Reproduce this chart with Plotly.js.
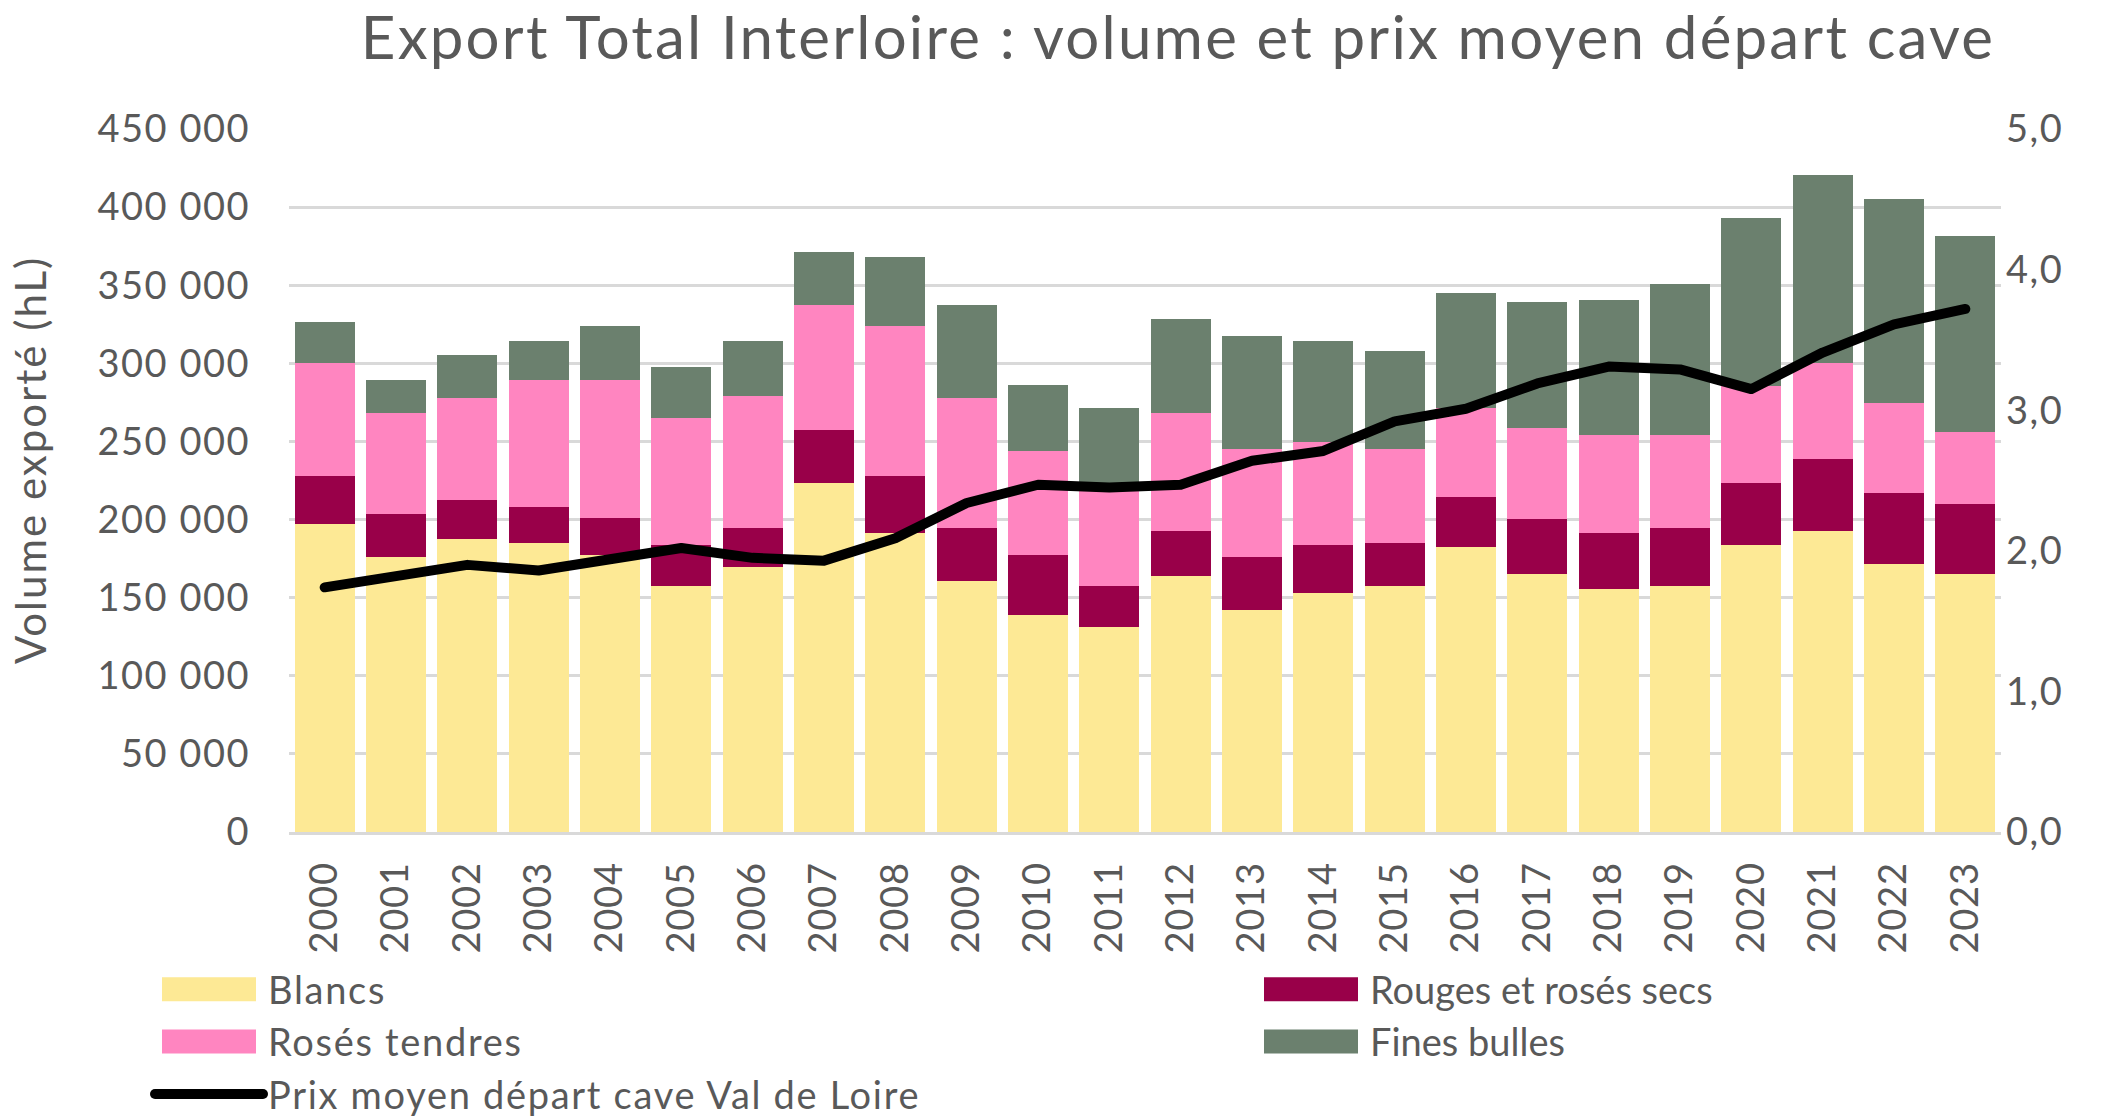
<!DOCTYPE html>
<html>
<head>
<meta charset="utf-8">
<script src="https://cdn.plot.ly/plotly-3.0.1.min.js"></script>
<style>
  html, body { margin: 0; padding: 0; background: #ffffff; }
  #chart { width: 2112px; height: 1116px; }
  .legendtext { letter-spacing: 1.7px; }
  .ytick text, .y2tick text { letter-spacing: 1.5px; }
  .xtick text { letter-spacing: 0.8px; }
  .gtitle { letter-spacing: 2.2px; }
  .annotation-text { letter-spacing: 2px; }
</style>
</head>
<body>
<div id="chart"></div>
<script>
// ---- Data ----
const years = ["2000","2001","2002","2003","2004","2005","2006","2007","2008","2009","2010","2011",
               "2012","2013","2014","2015","2016","2017","2018","2019","2020","2021","2022","2023"];

// Volumes exportés (hL)
const blancs = [197100,176000,187800,185300,177500,157400,169800,223500,191500,160500,139100,131300,
                163600,142200,152700,157400,182200,165100,155800,157400,183800,192800,171300,165100];
const rougesRosesSecs = [31000,27300,24800,22700,23500,26400,24500,33800,36600,33800,38100,26100,
                         29200,33800,31100,27900,32000,35400,35400,36900,39700,46200,46000,44700];
const rosesTendres = [72400,64900,64900,81600,88600,81300,84700,80100,95600,83200,66500,63000,
                      75400,69200,66100,59900,57100,58400,63000,59900,62100,61500,57100,46000];
const finesBulles = [26000,21400,27600,24800,34100,32300,35400,33800,44400,59900,42500,50900,
                     59900,72000,64500,63000,73900,80100,86300,96900,107400,120100,130700,126000];

// Prix moyen départ cave Val de Loire (€/L) – axe de droite
const prixMoyen = [1.74,1.82,1.90,1.86,1.94,2.02,1.95,1.93,2.09,2.34,2.47,2.45,
                   2.47,2.64,2.71,2.92,3.01,3.19,3.31,3.29,3.15,3.41,3.61,3.72];

const seriesNames = ["Blancs","Rouges et rosés secs","Rosés tendres","Fines bulles",
                     "Prix moyen départ cave Val de Loire"];
const chartTitle = "Export Total Interloire : volume et prix moyen départ cave";
const yTitle = "Volume exporté (hL)";

// ---- Styles ----
const FONT = "Lato, 'Open Sans', sans-serif";
const GREY = "#595959";
const colors = ["#FDE995", "#990049", "#FF85C0", "#6B806E"];

const W = 2112, H = 1116;
const plotL = 289, plotR = 2001, plotT = 129, plotB = 832;

function barTrace(y, name, color, legend) {
  return {
    type: "bar", x: years, y: y, name: name,
    marker: { color: color, line: { width: 0 } },
    legend: legend, hoverinfo: "x+y+name"
  };
}

const traces = [
  barTrace(blancs, seriesNames[0], colors[0], "legend"),
  barTrace(rougesRosesSecs, seriesNames[1], colors[1], "legend2"),
  barTrace(rosesTendres, seriesNames[2], colors[2], "legend"),
  barTrace(finesBulles, seriesNames[3], colors[3], "legend2"),
  {
    type: "scatter", mode: "lines", x: years, y: prixMoyen, name: seriesNames[4],
    yaxis: "y2", line: { color: "#000000", width: 10 }, legend: "legend"
  }
];

const legendCommon = {
  orientation: "v", traceorder: "normal",
  xref: "container", yref: "container",
  xanchor: "left", yanchor: "top",
  bgcolor: "rgba(0,0,0,0)", borderwidth: 0,
  itemwidth: 108,
  font: { family: FONT, size: 38, color: GREY }
};

const layout = {
  width: W, height: H,
  paper_bgcolor: "#ffffff", plot_bgcolor: "#ffffff",
  separators: ", ",
  barmode: "stack",
  bargap: 0.16,
  margin: { l: plotL, r: W - plotR, t: plotT, b: H - plotB, pad: 0, autoexpand: false },
  font: { family: FONT, color: GREY },
  title: {
    text: chartTitle,
    font: { family: FONT, size: 60, color: GREY },
    xref: "container", yref: "container",
    x: 1178 / W, xanchor: "center",
    y: 1 - 38 / H, yanchor: "middle"
  },
  xaxis: {
    type: "category",
    tickmode: "linear", dtick: 1, tick0: 0,
    tickangle: -90,
    tickfont: { family: FONT, size: 38, color: GREY },
    ticks: "",
    ticklabelstandoff: 12,
    showline: true, linecolor: "#D9D9D9", linewidth: 3,
    showgrid: false, fixedrange: true, automargin: false
  },
  yaxis: {
    range: [0, 450000],
    dtick: 50000, tick0: 0,
    tickformat: ",d",
    tickfont: { family: FONT, size: 38, color: GREY },
    showgrid: true, gridcolor: "#D9D9D9", gridwidth: 3,
    zeroline: false,
    ticks: "",
    ticklabelstandoff: 38,
    automargin: false, fixedrange: true
  },
  yaxis2: {
    overlaying: "y", side: "right",
    range: [0, 5], dtick: 1, tick0: 0,
    tickformat: ".1f",
    tickfont: { family: FONT, size: 38, color: GREY },
    showgrid: false, zeroline: false, ticks: "",
    ticklabelstandoff: 4,
    automargin: false, fixedrange: true
  },
  annotations: [{
    text: yTitle,
    xref: "paper", yref: "paper",
    x: (30 - plotL) / (plotR - plotL), y: (plotB - 460) / (plotB - plotT),
    xanchor: "center", yanchor: "middle",
    textangle: -90, showarrow: false,
    font: { family: FONT, size: 42, color: GREY }
  }],
  legend: Object.assign({}, legendCommon, { x: 150 / W, y: 1 - 958 / H }),
  legend2: Object.assign({}, legendCommon, { x: 1252 / W, y: 1 - 958 / H }),
  showlegend: true
};

function fixLegendSymbols() {
  // enlarge bar swatches to Excel-like wide rectangles
  document.querySelectorAll(".legendpoints path").forEach(p => {
    const d = p.getAttribute("d") || "";
    if (d.indexOf("M6,6H-6V-6H6Z") === 0) {
      p.setAttribute("d", "M47,12H-47V-12H47Z");
    }
  });
  document.querySelectorAll(".legendlines path").forEach(p => {
    p.style.strokeLinecap = "round";
  });
  document.querySelectorAll(".scatterlayer .js-line").forEach(p => {
    p.style.strokeLinejoin = "round";
    p.style.strokeLinecap = "round";
  });
  // the right-hand legend column is drawn slightly wider in the reference
  const wider = [seriesNames[1], seriesNames[3]];
  document.querySelectorAll(".legendtext").forEach(t => {
    if (wider.indexOf(t.textContent) >= 0) {
      t.style.letterSpacing = "3.4px";
      const sb = t.closest(".scrollbox");
      if (sb) sb.removeAttribute("clip-path");
    }
  });
}

Plotly.newPlot("chart", traces, layout, { displayModeBar: false, staticPlot: true })
  .then(fixLegendSymbols);
</script>
</body>
</html>
